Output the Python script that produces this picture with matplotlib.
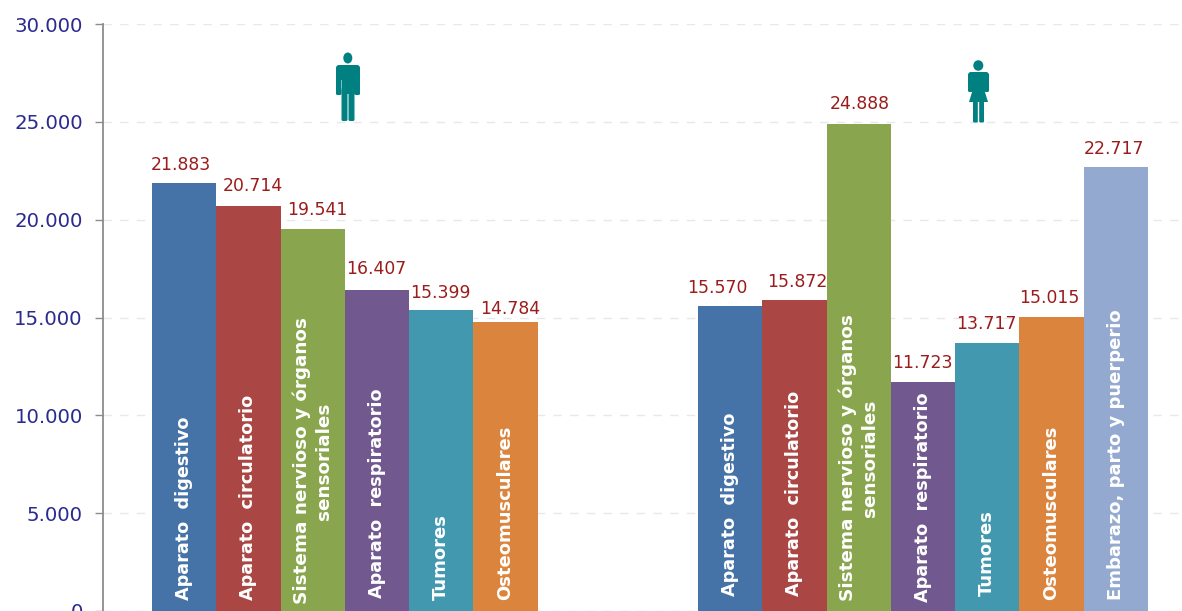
import matplotlib
matplotlib.use("Agg")
import matplotlib.pyplot as plt
from matplotlib.patches import Ellipse, FancyBboxPatch, Polygon
from matplotlib.transforms import Affine2D

W, H = 1182, 611

# ---- data ----
men_labels = ["Aparato  digestivo", "Aparato  circulatorio",
              "Sistema nervioso y órganos\nsensoriales", "Aparato  respiratorio",
              "Tumores", "Osteomusculares"]
men_values = [21883, 20714, 19541, 16407, 15399, 14784]
women_labels = men_labels + ["Embarazo, parto y puerperio"]
women_values = [15570, 15872, 24888, 11723, 13717, 15015, 22717]
value_text_men = ["21.883", "20.714", "19.541", "16.407", "15.399", "14.784"]
value_text_women = ["15.570", "15.872", "24.888", "11.723", "13.717", "15.015", "22.717"]
y_ticks = [0, 5000, 10000, 15000, 20000, 25000, 30000]
y_tick_labels = ["0", "5.000", "10.000", "15.000", "20.000", "25.000", "30.000"]

# ---- style / layout ----
colors = ["#4572A7", "#AA4643", "#89A54E", "#71588F", "#4198AF", "#DB843D", "#93A9CF"]
teal = "#008080"
label_color = "#9B1C1C"
tick_color = "#2B2B8F"
BAR_PX = 64.25
LEFT = 103
TOP = 24
men_start = (152 - LEFT) / BAR_PX
women_start = (698 - LEFT) / BAR_PX
# label nudges in pixels (dx, dy up)
men_nudge = [(-3, 0), (4, 2), (5, 1), (-1, 3), (-1, -1), (5, -5)]
women_nudge = [(-13, 0), (3, 0), (1, 2), (-1, 1), (-1, 1), (-2, 1), (-2, 0)]
# distance of the vertical category text from the bar base, in pixels
men_base = [11, 11, None, 13, 11, 11]
women_base = [15, 15, None, 9, 15, 11, 11]
text_sizes = [12.7, 12.7, 13.2, 12.7, 13.0, 13.0, 13.0]

plt.rcParams["font.family"] = "DejaVu Sans"
fig = plt.figure(figsize=(W / 100, H / 100), dpi=100)
ax = fig.add_axes([LEFT / W, 0, 1 - LEFT / W, (H - TOP) / H])
ax.set_xlim(0, (W - LEFT) / BAR_PX)
ax.set_ylim(0, 30000)
ax.patch.set_alpha(0)

for s in ("top", "right", "bottom"):
    ax.spines[s].set_visible(False)
ax.spines["left"].set_color("#8C8C8C")
ax.spines["left"].set_linewidth(1.3)
ax.set_xticks([])
ax.set_yticks(y_ticks)
ax.set_yticklabels(y_tick_labels, fontsize=14.2, color=tick_color)
ax.tick_params(axis="y", length=5.5, width=1, color="#8C8C8C", pad=9)
for t in ax.get_yticklabels():
    t.set_clip_on(False)
ax.yaxis.grid(True, color="#E8E8E8", linewidth=1, linestyle=(0, (6, 6)))
ax.set_axisbelow(True)

px_per_val = (H - TOP) / 30000


def draw_group(start, labels, values, texts, nudges, bases, center_y):
    for i, (lab, v, txt) in enumerate(zip(labels, values, texts)):
        ax.bar(start + i, v, width=1, align="edge", color=colors[i], linewidth=0, zorder=2)
        dx, dy = nudges[i]
        ax.annotate(txt, (start + i + 0.5, v), xytext=(dx * 0.72, (9 + dy) * 0.72),
                    textcoords="offset points", ha="center", va="bottom",
                    fontsize=12.4, color=label_color, zorder=4)
        if bases[i] is None:
            ax.text(start + i + 0.5, center_y / px_per_val, lab, rotation=90,
                    ha="center", va="center", ma="center", color="white",
                    fontsize=text_sizes[i], fontweight="bold", linespacing=1.25, zorder=4)
        else:
            ax.text(start + i + 0.5, bases[i] / px_per_val, lab, rotation=90,
                    ha="center", va="bottom", color="white",
                    fontsize=text_sizes[i], fontweight="bold", zorder=4)


draw_group(men_start, men_labels, men_values, value_text_men, men_nudge, men_base, 150)
draw_group(women_start, women_labels, women_values, value_text_women, women_nudge, women_base, 153)

# ---- pictograms (image pixels) ----
to_px = Affine2D().scale(1, -1).translate(0, H)


def rbox(x0, y0, x1, y1, r=1.5):
    fig.add_artist(FancyBboxPatch((x0 + r, y0 + r), x1 - x0 - 2 * r, y1 - y0 - 2 * r,
                                  boxstyle=f"round,pad={r},rounding_size={r}",
                                  fc=teal, ec="none", transform=to_px, zorder=5))


def poly(pts):
    fig.add_artist(Polygon(pts, closed=True, fc=teal, ec="none", transform=to_px, zorder=5))


# man
fig.add_artist(Ellipse((347.8, 58), 9, 11, fc=teal, ec="none", transform=to_px, zorder=5))
rbox(336, 65, 360, 80, 3)
rbox(336, 70, 341.5, 95, 1.5)
rbox(354.5, 70, 360, 95, 1.5)
poly([(341.5, 70), (354.5, 70), (354.5, 94), (341.5, 94)])
rbox(341.5, 88, 347.5, 121, 1.5)
rbox(348.5, 88, 354.5, 121, 1.5)

# woman
fig.add_artist(Ellipse((978.3, 65.5), 10, 10.5, fc=teal, ec="none", transform=to_px, zorder=5))
rbox(968, 72, 989, 84, 3)
rbox(968, 76, 973, 92, 1.5)
rbox(984, 76, 989, 92, 1.5)
poly([(973, 76), (984, 76), (984, 89), (988, 102), (969, 102), (973, 89)])
rbox(973, 100, 977.8, 122.5, 1.2)
rbox(979.2, 100, 984, 122.5, 1.2)

fig.savefig("out.png", dpi=100, facecolor="white")
